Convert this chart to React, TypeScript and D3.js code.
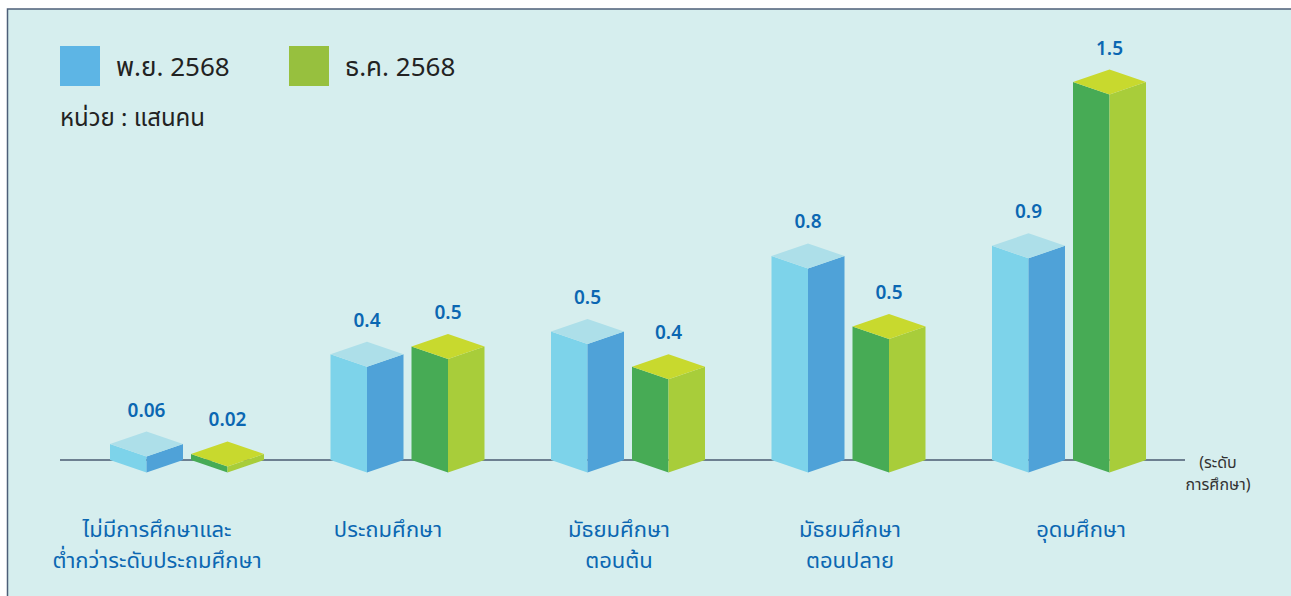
import React from "react";
import * as d3 from "d3";

const categories: string[][] = [
  ["ไม่มีการศึกษาและ", "ต่ำกว่าระดับประถมศึกษา"],
  ["ประถมศึกษา"],
  ["มัธยมศึกษา", "ตอนต้น"],
  ["มัธยมศึกษา", "ตอนปลาย"],
  ["อุดมศึกษา"],
];
const seriesNames = ["พ.ย. 2568", "ธ.ค. 2568"];
const novValues = [0.063, 0.42, 0.51, 0.81, 0.85];
const decValues = [0.024, 0.45, 0.37, 0.53, 1.5];
const novLabels = ["0.06", "0.4", "0.5", "0.8", "0.9"];
const decLabels = ["0.02", "0.5", "0.4", "0.5", "1.5"];
const unitLabel = "หน่วย : แสนคน";
const axisTitle = ["(ระดับ", "การศึกษา)"];

const W = 1291;
const H = 596;
const FONT = "'Noto Sans Thai', 'Noto Sans', Tahoma, sans-serif";

const faces = [
  { left: "#7dd3ea", right: "#4fa2d8", top: "#addfe9", legend: "#5db5e5" },
  { left: "#47ab55", right: "#a8cd3a", top: "#c8d92e", legend: "#97c03e" },
];

export default function App() {
  const baseY = 460;
  const y = d3.scaleLinear().domain([0, 1.5]).range([baseY, 82]);
  const x = d3
    .scaleBand<number>()
    .domain(d3.range(categories.length))
    .range([110, 1212.5])
    .paddingInner(0)
    .paddingOuter(0);
  const barW = 73;
  const hw = barW / 2;
  const depth = 12.5;
  const seriesOffset = 81;
  const labelX = d3
    .scalePoint<number>()
    .domain(d3.range(categories.length))
    .range([157, 1081]);

  const series = [
    { values: novValues, labels: novLabels },
    { values: decValues, labels: decLabels },
  ];

  const bars: React.ReactNode[] = [];
  categories.forEach((_, i) => {
    series.forEach((s, si) => {
      const L = (x(i) as number) + si * seriesOffset;
      const T = y(s.values[i]);
      const B = baseY;
      const c = faces[si];
      const leftFace = [
        [L, T],
        [L + hw, T + depth],
        [L + hw, B + depth],
        [L, B],
      ];
      const rightFace = [
        [L + hw, T + depth],
        [L + barW, T],
        [L + barW, B],
        [L + hw, B + depth],
      ];
      const topFace = [
        [L, T],
        [L + hw, T - depth],
        [L + barW, T],
        [L + hw, T + depth],
      ];
      const pts = (p: number[][]) => p.map((q) => q.join(",")).join(" ");
      bars.push(
        <g key={`b${i}-${si}`}>
          <polygon points={pts(leftFace)} fill={c.left} />
          <polygon points={pts(rightFace)} fill={c.right} />
          <polygon points={pts(topFace)} fill={c.top} />
          <text
            x={L + hw}
            y={T - depth - 15}
            textAnchor="middle"
            fontSize={19}
            fontWeight={600}
            fill="#0b67b2"
            fontFamily={FONT}
          >
            {s.labels[i]}
          </text>
        </g>
      );
    });
  });

  return (
    <svg
      width={W}
      height={H}
      style={{ position: "absolute", left: 0, top: 0 }}
    >
      <rect x={7.5} y={9} width={W} height={H} fill="#d6eeee" stroke="#4d5f78" strokeWidth={1.5} />
      {/* legend */}
      {seriesNames.map((n, i) => (
        <g key={n} transform={`translate(${60 + i * 229},46)`}>
          <rect width={40} height={40} fill={faces[i].legend} />
          <text x={56} y={30} fontSize={26} fill="#222" fontFamily={FONT}>
            {n}
          </text>
        </g>
      ))}
      <text x={60} y={126} fontSize={24} fill="#222" fontFamily={FONT}>
        {unitLabel}
      </text>
      {/* baseline */}
      <line x1={60} x2={1185} y1={baseY} y2={baseY} stroke="#4a5a70" strokeWidth={1.5} />
      {bars}
      {/* axis title */}
      {axisTitle.map((t, i) => (
        <text
          key={t}
          x={1218}
          y={468 + i * 22}
          textAnchor="middle"
          fontSize={16}
          fill="#333"
          fontFamily={FONT}
        >
          {t}
        </text>
      ))}
      {/* category labels */}
      {categories.map((lines, i) => (
        <text
          key={i}
          x={labelX(i)}
          textAnchor="middle"
          fontSize={22}
          fill="#0b67b2"
          fontFamily={FONT}
        >
          {lines.map((l, j) => (
            <tspan key={j} x={labelX(i)} y={537 + j * 31}>
              {l}
            </tspan>
          ))}
        </text>
      ))}
    </svg>
  );
}
